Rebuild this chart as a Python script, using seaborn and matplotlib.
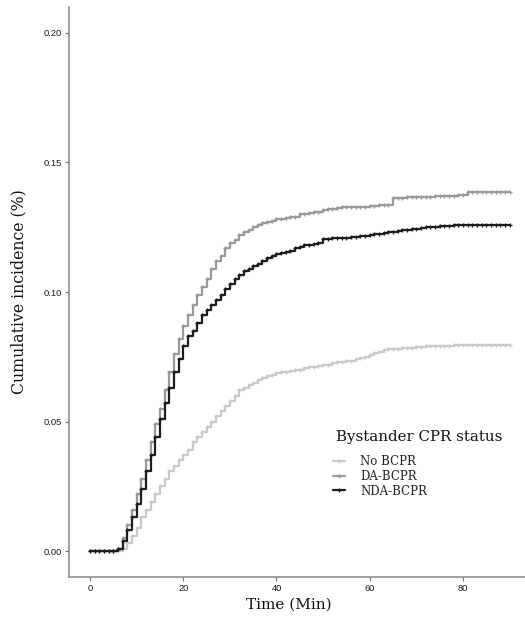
import numpy as np
import pandas as pd
import matplotlib
matplotlib.use("Agg")
import matplotlib.pyplot as plt
import seaborn as sns
from matplotlib.lines import Line2D

# ---- data ----
time = list(range(0, 91))

no_bcpr = [0, 0, 0, 0, 0, 0, 0, 0.001, 0.003, 0.006,
           0.009, 0.013, 0.016, 0.019, 0.022, 0.025, 0.028, 0.031, 0.033, 0.035,
           0.037, 0.039, 0.042, 0.044, 0.046, 0.048, 0.050, 0.052, 0.054, 0.056,
           0.058, 0.060, 0.062, 0.063, 0.064, 0.065, 0.066, 0.067, 0.0676, 0.068,
           0.0687, 0.069, 0.0693, 0.0697, 0.070, 0.070, 0.0705, 0.071, 0.071, 0.0715,
           0.072, 0.072, 0.0725, 0.073, 0.073, 0.0733, 0.0735, 0.074, 0.0745, 0.075,
           0.0755, 0.0765, 0.077, 0.0775, 0.078, 0.078, 0.078, 0.0783, 0.0785, 0.0785,
           0.0787, 0.0788, 0.079, 0.079, 0.079, 0.0792, 0.0792, 0.0793, 0.0794, 0.0795,
           0.0795, 0.0795, 0.0796, 0.0796, 0.0796, 0.0797, 0.0797, 0.0797, 0.0797, 0.0797,
           0.0797]

da_bcpr = [0, 0, 0, 0, 0, 0, 0.001, 0.005, 0.010, 0.016,
           0.022, 0.028, 0.035, 0.042, 0.049, 0.055, 0.062, 0.069, 0.076, 0.082,
           0.087, 0.091, 0.095, 0.099, 0.102, 0.105, 0.109, 0.112, 0.114, 0.117,
           0.119, 0.120, 0.122, 0.123, 0.124, 0.125, 0.126, 0.1265, 0.127, 0.1275,
           0.128, 0.128, 0.1285, 0.129, 0.129, 0.130, 0.130, 0.1305, 0.131, 0.131,
           0.1315, 0.132, 0.132, 0.1325, 0.133, 0.133, 0.133, 0.133, 0.133, 0.133,
           0.1332, 0.1333, 0.1334, 0.1335, 0.1335, 0.1363, 0.1363, 0.1364, 0.1365, 0.1366,
           0.1366, 0.1367, 0.1368, 0.1368, 0.1369, 0.137, 0.137, 0.137, 0.1372, 0.1373,
           0.1374, 0.1386, 0.1386, 0.1386, 0.1386, 0.1386, 0.1386, 0.1386, 0.1386, 0.1386,
           0.1386]

nda_bcpr = [0, 0, 0, 0, 0, 0, 0.001, 0.004, 0.008, 0.013,
            0.018, 0.024, 0.031, 0.037, 0.044, 0.051, 0.057, 0.063, 0.069, 0.074,
            0.079, 0.083, 0.085, 0.088, 0.091, 0.093, 0.095, 0.097, 0.099, 0.101,
            0.103, 0.105, 0.1065, 0.108, 0.109, 0.110, 0.111, 0.112, 0.1133, 0.114,
            0.1145, 0.115, 0.1155, 0.116, 0.117, 0.1174, 0.118, 0.118, 0.1185, 0.119,
            0.1205, 0.1205, 0.1207, 0.1208, 0.121, 0.121, 0.1212, 0.1213, 0.1215, 0.1217,
            0.122, 0.1222, 0.1225, 0.1228, 0.123, 0.1233, 0.1236, 0.1238, 0.124, 0.1242,
            0.1245, 0.1247, 0.1249, 0.125, 0.1252, 0.1254, 0.1255, 0.1256, 0.1257, 0.1258,
            0.1259, 0.126, 0.126, 0.126, 0.126, 0.126, 0.126, 0.126, 0.126, 0.126,
            0.126]

groups = ["No BCPR", "DA-BCPR", "NDA-BCPR"]
colors = ["#cacaca", "#999999", "#1c1c1c"]
x_ticks = [0, 20, 40, 60, 80]
y_ticks = [0.00, 0.05, 0.10, 0.15, 0.20]
y_tick_labels = ["0.00", "0.05", "0.10", "0.15", "0.20"]

df = pd.concat([
    pd.DataFrame({"time": time, "ci": vals, "group": g})
    for g, vals in zip(groups, [no_bcpr, da_bcpr, nda_bcpr])
], ignore_index=True)

sns.set_style("white")
fig = plt.figure(figsize=(5.25, 6.18), dpi=100)
ax = fig.add_axes([69 / 525, 41 / 618, 1 - 69 / 525, (577 - 7) / 618])

sns.lineplot(data=df, x="time", y="ci", hue="group", hue_order=groups,
             palette=dict(zip(groups, colors)), drawstyle="steps-post",
             marker="+", markersize=3.5, markeredgewidth=0.9,
             linewidth=1.6, errorbar=None, legend=False, ax=ax)
for ln in ax.lines:
    ln.set_markeredgecolor(ln.get_color())
    ln.set_markerfacecolor(ln.get_color())

ax.set_xlim(-4.5, 93.3)
ax.set_ylim(-0.01, 0.21)
ax.set_xticks(x_ticks)
ax.set_xticklabels([str(v) for v in x_ticks])
ax.set_yticks(y_ticks)
ax.set_yticklabels(y_tick_labels)
for lab in ax.get_xticklabels() + ax.get_yticklabels():
    lab.set_fontfamily("Liberation Sans")
    lab.set_fontsize(6.7)
    lab.set_color("#1a1a1a")
ax.tick_params(axis="both", length=3, width=0.8, color="#777777", pad=2,
               direction="out", bottom=True, left=True)

for s in ["top", "right"]:
    ax.spines[s].set_visible(False)
for s in ["left", "bottom"]:
    ax.spines[s].set_color("#888888")
    ax.spines[s].set_linewidth(1.1)

ax.set_xlabel("Time (Min)", fontfamily="DejaVu Serif", fontsize=11, color="#111111")
ax.xaxis.set_label_coords((289 - 69) / 456, -(605 - 577) / 570)
ax.xaxis.label.set_verticalalignment("center")
ax.set_ylabel("Cumulative incidence (%)", fontfamily="DejaVu Serif", fontsize=11.3, color="#111111", labelpad=12)

fig.text(336 / 525, 1 - 437 / 618, "Bystander CPR status", family="DejaVu Serif",
         fontsize=10.8, color="#111111", ha="left", va="center")
handles = [Line2D([0], [0], color=c, lw=1.6, marker="+", markersize=3.5,
                  markeredgewidth=0.9, markeredgecolor=c) for c in colors]
leg = ax.legend(handles, groups,
                loc="upper left", bbox_to_anchor=((333 - 69) / 456, (577 - 455) / 570),
                frameon=False, handlelength=1.0, handletextpad=1.3,
                labelspacing=0.15, borderaxespad=0, borderpad=0,
                prop={"family": "DejaVu Serif", "size": 8.5})

fig.savefig("out.png", dpi=100)
